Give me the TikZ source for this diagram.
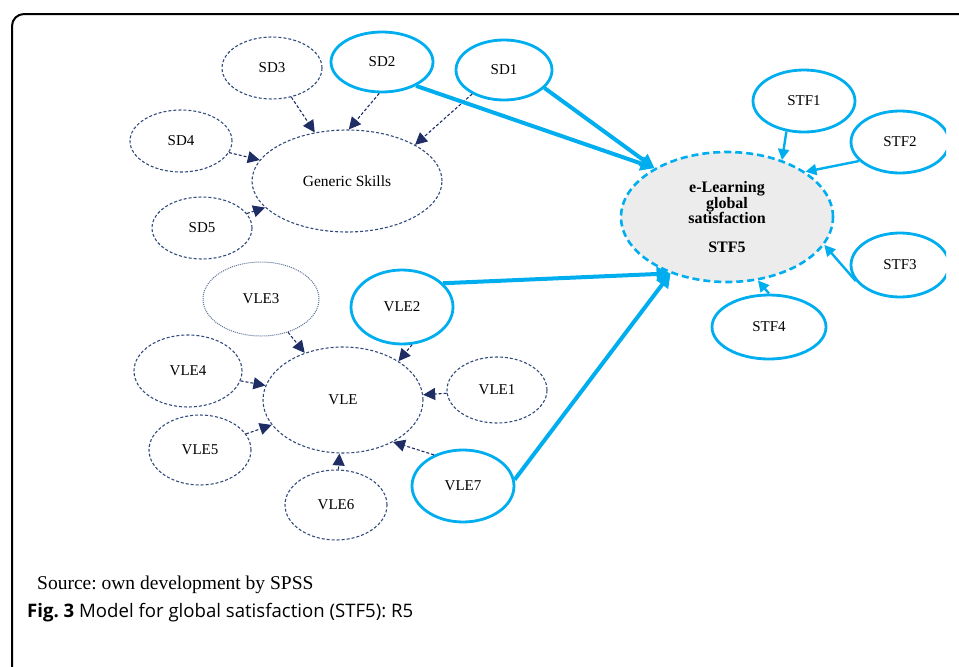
\documentclass[tikz,border=0pt]{standalone}
\usepackage{fontspec}
\setmainfont{Liberation Serif}
\newfontfamily\capfont{Open Sans}
\usetikzlibrary{shapes.geometric,arrows.meta}
\definecolor{cyanb}{RGB}{0,174,239}
\definecolor{navy}{RGB}{30,45,100}
\definecolor{navyl}{RGB}{50,75,125}
\definecolor{grayf}{RGB}{236,236,236}
\tikzset{
  ell/.style={ellipse, inner sep=0pt, font=\fontsize{15}{15}\selectfont},
  dsh/.style={ell, draw=navyl, line width=1.1pt, dash pattern=on 3pt off 2pt},
  dot/.style={ell, draw=navyl!80, line width=1pt, dash pattern=on 1pt off 1pt},
  sol/.style={ell, draw=cyanb, line width=2.8pt},
  darr/.style={draw=navy, line width=1.1pt, dash pattern=on 3pt off 2pt, -{Triangle[length=12pt,width=12pt,fill=navy]}},
  carr/.style={draw=cyanb, line width=4pt, -{Triangle[length=14pt,width=14pt]}},
  sarr/.style={draw=cyanb, line width=2.4pt, -{Triangle[length=11pt,width=11pt]}},
}
\begin{document}
\frenchspacing
\begin{tikzpicture}[x=1pt,y=-1pt]
\useasboundingbox (0,0) rectangle (959,667);
% frame
\draw[line width=2pt, rounded corners=12pt] (12,667) -- (12,14) -- (959,14);
% Generic skills group
\node[dsh, minimum width=190, minimum height=102] (GS) at (347,181) {\fontsize{15.5}{15}\selectfont Generic Skills};
\node[dsh, minimum width=100, minimum height=62] (SD3) at (272,68) {SD3};
\node[sol, minimum width=102, minimum height=60] (SD2) at (382,62) {SD2};
\node[sol, minimum width=96, minimum height=60] (SD1) at (504,70) {SD1};
\node[dsh, minimum width=102, minimum height=62] (SD4) at (181,141) {SD4};
\node[dsh, minimum width=100, minimum height=62] (SD5) at (202,228) {SD5};
% STF5
\node[ell, draw=cyanb, fill=grayf, line width=2.6pt, dash pattern=on 7pt off 4pt,
      minimum width=212, minimum height=130, align=center, font=\fontsize{16}{14.5}\selectfont\bfseries] (STF5) at (727,217)
      {e-Learning\\global\\satisfaction\\[14pt]STF5};
\node[sol, minimum width=102, minimum height=62] (STF1) at (804,101) {STF1};
\begin{scope}
\clip (0,0) rectangle (946,667);
\node[sol, minimum width=98, minimum height=62] (STF2) at (900,142) {STF2};
\node[sol, minimum width=98, minimum height=64] (STF3) at (900,265) {STF3};
\end{scope}
\node[sol, minimum width=114, minimum height=64] (STF4) at (769,327) {STF4};
% VLE group
\node[dsh, minimum width=160, minimum height=106] (VLE) at (343,400) {VLE};
\node[dot, minimum width=116, minimum height=74] (VLE3) at (261,299) {VLE3};
\node[sol, minimum width=102, minimum height=74] (VLE2) at (402,307) {VLE2};
\node[dsh, minimum width=108, minimum height=72] (VLE4) at (188,371) {VLE4};
\node[dsh, minimum width=100, minimum height=66] (VLE1) at (497,390) {VLE1};
\node[dsh, minimum width=102, minimum height=70] (VLE5) at (200,450) {VLE5};
\node[dsh, minimum width=102, minimum height=70] (VLE6) at (336,505) {VLE6};
\node[sol, minimum width=102, minimum height=72] (VLE7) at (463,486) {VLE7};
% dark arrows
\draw[darr] (SD3) -- (GS);
\draw[darr] (SD2.265) -- (GS.88);
\draw[darr] (SD1.217) -- (GS.28);
\draw[darr] (SD4) -- (GS);
\draw[darr] (SD5) -- (GS);
\draw[darr] (VLE3) -- (VLE);
\draw[darr] (VLE2.285) -- (VLE.35);
\draw[darr] (VLE4) -- (VLE);
\draw[darr] (VLE5) -- (VLE);
\draw[darr] (VLE1) -- (VLE);
\draw[darr] (VLE6) -- (VLE);
\draw[darr] (VLE7.133) -- (VLE.320);
% cyan thick arrows
\draw[carr] (SD2.325) -- (STF5.146);
\draw[carr] (SD1.336) -- (STF5.146);
\draw[carr] (VLE2.30) -- (STF5.225);
\draw[carr] (VLE7.7) -- (STF5.225);
% STF arrows
\draw[sarr] (STF1.240) -- (STF5.46);
\draw[sarr] (STF2.205) -- (STF5.30);
\draw[sarr] (STF3.200) -- (STF5.344);
\draw[sarr] (STF4.90) -- (STF5.296);
% texts
\node[anchor=base west, inner sep=0pt, font=\fontsize{19.5}{19.5}\selectfont] (src) at (37,589) {Source: own development by SPSS};
\node[anchor=base west, inner sep=0pt, font=\capfont\fontsize{18.6}{18.6}\selectfont] (cap) at (27,617) {\textbf{Fig. 3} Model for global satisfaction (STF5): R5};
\end{tikzpicture}
\end{document}
